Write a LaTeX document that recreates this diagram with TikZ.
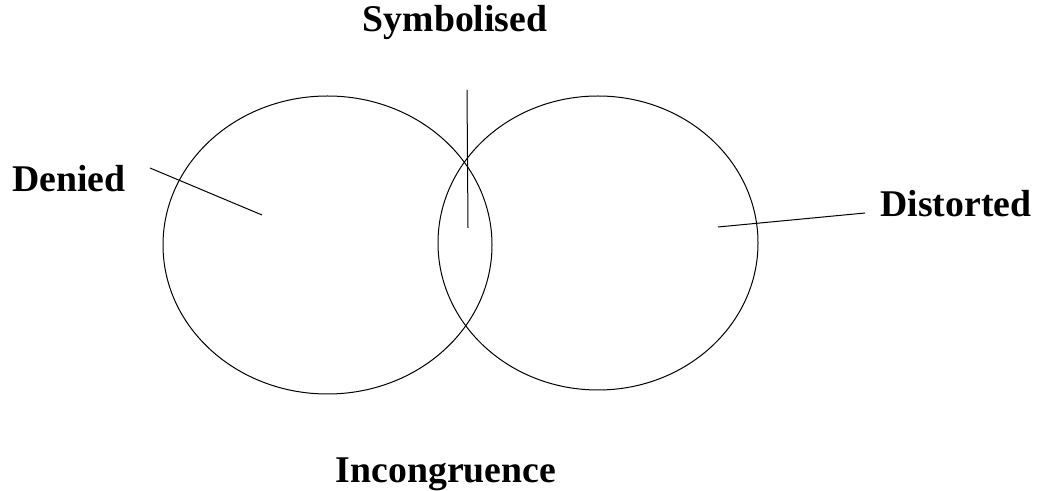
\documentclass[tikz,border=0pt]{standalone}
\usepackage{fontspec}
\setmainfont{Liberation Serif}
\usetikzlibrary{shapes.geometric}
\begin{document}
\begin{tikzpicture}[x=0.75pt,y=-0.75pt,
  lbl/.style={font=\bfseries\fontsize{28.3}{30}\selectfont, inner sep=0, anchor=base},
  ring/.style={draw, ellipse, inner sep=0, line width=0.75pt},
  ln/.style={line width=0.75pt}]
\useasboundingbox[fill=white] (0,0) rectangle (1039,491);
\node[ring, minimum width=246.75pt, minimum height=223.5pt] (L) at (327.5,245) {};
\node[ring, minimum width=240pt, minimum height=220.5pt] (R) at (598,243) {};
\node[lbl] (sym) at (455,32) {Symbolised};
\node[lbl] (den) at (69,192) {Denied};
\node[lbl] (dis) at (956,217) {Distorted};
\node[lbl] (inc) at (446,483) {Incongruence};
\coordinate (d1) at (150,168);
\coordinate (d2) at (262,215);
\coordinate (s1) at (467,90);
\coordinate (s2) at (468,228);
\coordinate (t1) at (718,227);
\coordinate (t2) at (865,213);
\draw[ln] (d1) -- (d2);
\draw[ln] (s1) -- (s2);
\draw[ln] (t1) -- (t2);
\end{tikzpicture}
\end{document}
